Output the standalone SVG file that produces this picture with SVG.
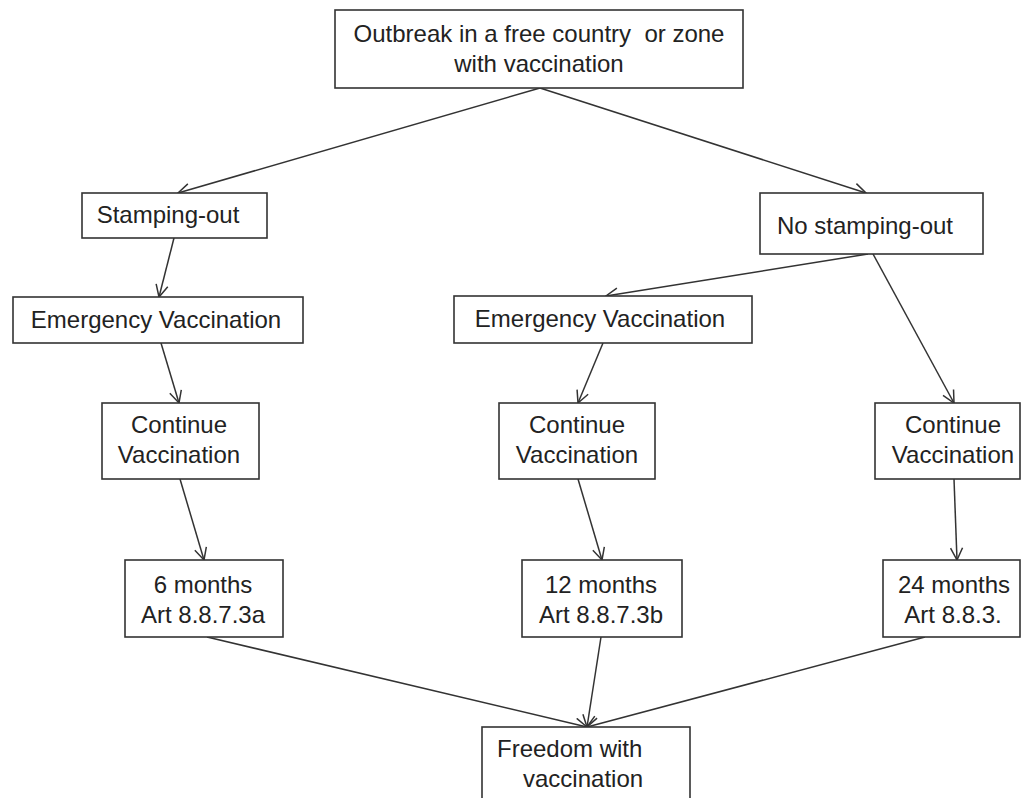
<svg xmlns="http://www.w3.org/2000/svg" width="1022" height="798" viewBox="0 0 1022 798">
<style>
.box{fill:#fff;stroke:#333;stroke-width:1.6}
.t{font-family:"Liberation Sans",Arial,sans-serif;font-size:24px;fill:#222;text-anchor:middle}
.ts{font-family:"Liberation Sans",Arial,sans-serif;font-size:24px;fill:#222;text-anchor:start}
.c{fill:none;stroke:#333;stroke-width:1.5;marker-end:url(#arr)}
</style>
<defs>
<marker id="arr" viewBox="0 0 14 14" refX="13" refY="7" markerWidth="14" markerHeight="14" markerUnits="userSpaceOnUse" orient="auto">
<path d="M1,1 L13,7 L1,13" fill="none" stroke="#333" stroke-width="1.5"/>
</marker>
</defs>
<rect width="1022" height="798" fill="#fff"/>
<g id="connectors">
<line class="c" x1="540" y1="88" x2="178" y2="193"/>
<line class="c" x1="540" y1="88" x2="866" y2="193"/>
<line class="c" x1="174" y1="238" x2="159" y2="297"/>
<line class="c" x1="161" y1="343" x2="179" y2="403"/>
<line class="c" x1="868" y1="254" x2="606" y2="296"/>
<line class="c" x1="873" y1="254" x2="954" y2="403"/>
<line class="c" x1="603" y1="343" x2="578" y2="403"/>
<line class="c" x1="180" y1="479" x2="204" y2="560"/>
<line class="c" x1="578" y1="479" x2="602" y2="560"/>
<line class="c" x1="954" y1="479" x2="957" y2="560"/>
<line class="c" x1="207" y1="637" x2="587" y2="727"/>
<line class="c" x1="601" y1="637" x2="587" y2="727"/>
<line class="c" x1="925" y1="637" x2="587" y2="727"/>
</g>
<g id="outbreak">
<rect class="box" x="335" y="10" width="408" height="78"/>
<text class="t" x="539" y="42" xml:space="preserve">Outbreak in a free country  or zone</text>
<text class="t" x="539" y="72">with vaccination</text>
</g>
<g id="stamping">
<rect class="box" x="82" y="193" width="185" height="45"/>
<text class="t" x="168" y="223">Stamping-out</text>
</g>
<g id="nostamping">
<rect class="box" x="760" y="193" width="223" height="61"/>
<text class="t" x="865" y="234">No stamping-out</text>
</g>
<g id="emergency-left">
<rect class="box" x="13" y="297" width="290" height="46"/>
<text class="t" x="156" y="328">Emergency Vaccination</text>
</g>
<g id="emergency-right">
<rect class="box" x="454" y="296" width="298" height="47"/>
<text class="t" x="600" y="327">Emergency Vaccination</text>
</g>
<g id="continue-left">
<rect class="box" x="102" y="403" width="157" height="76"/>
<text class="t" x="179" y="433">Continue</text>
<text class="t" x="179" y="463">Vaccination</text>
</g>
<g id="continue-center">
<rect class="box" x="499" y="403" width="156" height="76"/>
<text class="t" x="577" y="433">Continue</text>
<text class="t" x="577" y="463">Vaccination</text>
</g>
<g id="continue-right">
<rect class="box" x="875" y="403" width="145" height="76"/>
<text class="t" x="953" y="433">Continue</text>
<text class="t" x="953" y="463">Vaccination</text>
</g>
<g id="six-months">
<rect class="box" x="125" y="560" width="158" height="77"/>
<text class="t" x="203" y="593">6 months</text>
<text class="t" x="203" y="623">Art 8.8.7.3a</text>
</g>
<g id="twelve-months">
<rect class="box" x="522" y="560" width="160" height="77"/>
<text class="t" x="601" y="593">12 months</text>
<text class="t" x="601" y="623">Art 8.8.7.3b</text>
</g>
<g id="twentyfour-months">
<rect class="box" x="883" y="560" width="137" height="77"/>
<text class="t" x="954" y="593">24 months</text>
<text class="t" x="953" y="623">Art 8.8.3.</text>
</g>
<g id="freedom">
<rect class="box" x="482" y="727" width="208" height="80"/>
<text class="ts" x="497" y="757">Freedom with</text>
<text class="ts" x="523" y="787">vaccination</text>
</g>
</svg>
